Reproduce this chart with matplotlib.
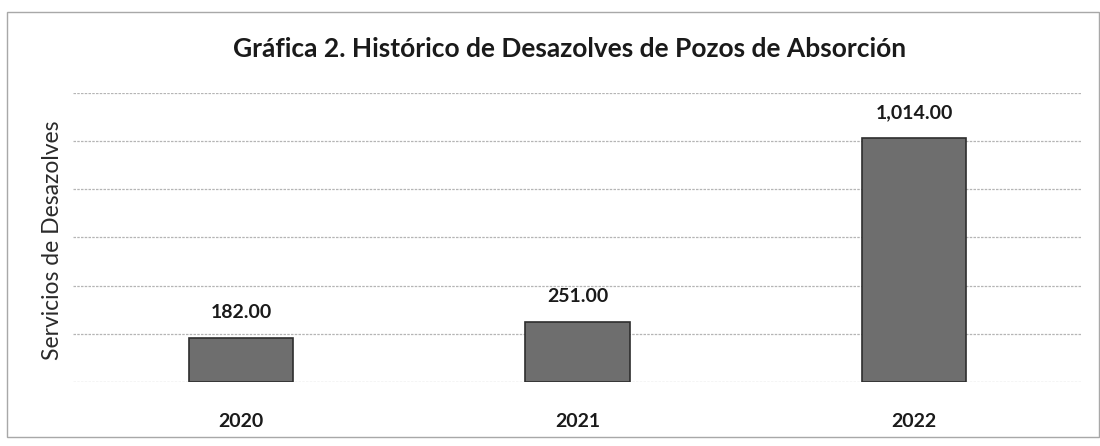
import matplotlib.pyplot as plt
import matplotlib.patches as mpatches
import numpy as np

# ---- data ----
years = ["2020", "2021", "2022"]
servicios = [182.00, 251.00, 1014.00]
y_ticks = [0, 200, 400, 600, 800, 1000, 1200]

plt.rcParams["font.family"] = ["Lato", "DejaVu Sans"]

fig = plt.figure(figsize=(11, 4.46), dpi=100)
ax = fig.add_axes([0.066, 0.1435, 0.918, 0.648])

x = np.arange(len(years))
bars = ax.bar(x, servicios, width=0.31, color="#6e6e6e",
              edgecolor="#2e2e2e", linewidth=1.2, zorder=3)

# value labels above bars
for bar, val in zip(bars, servicios):
    ax.annotate(f"{val:,.2f}",
                xy=(bar.get_x() + bar.get_width() / 2, bar.get_height()),
                xytext=(0, 12), textcoords="offset points",
                ha="center", va="bottom", fontsize=14, fontweight="bold",
                color="#1a1a1a")

ax.set_xlim(-0.5, 2.5)
ax.set_ylim(0, 1200)
ax.set_yticks(y_ticks)
ax.set_yticklabels([])
ax.set_xticks(x)
ax.set_xticklabels(years, fontsize=14, fontweight="bold", color="#1a1a1a")
ax.tick_params(axis="both", length=0)
ax.tick_params(axis="x", pad=22)

ax.grid(axis="y", color="#b5b5b5", linewidth=0.9, linestyle=(0, (2, 1)), zorder=0)
for side in ["top", "right", "left", "bottom"]:
    ax.spines[side].set_visible(False)

ax.set_ylabel("Servicios de Desazolves", fontsize=16.5, color="#2a2a2a")
ax.yaxis.set_label_coords(-0.01, 0.49)

fig.text(0.518, 0.89, "Gráfica 2. Histórico de Desazolves de Pozos de Absorción",
         ha="center", va="center", fontsize=19, fontweight="bold", color="#1a1a1a")

# outer chart frame
frame = mpatches.Rectangle((7 / 1100, (446 - 437) / 446), 1092 / 1100, 425 / 446,
                           transform=fig.transFigure, fill=False,
                           edgecolor="#a8a8a8", linewidth=1.0)
fig.patches.append(frame)

fig.savefig("out.png", dpi=100)
plt.close(fig)
